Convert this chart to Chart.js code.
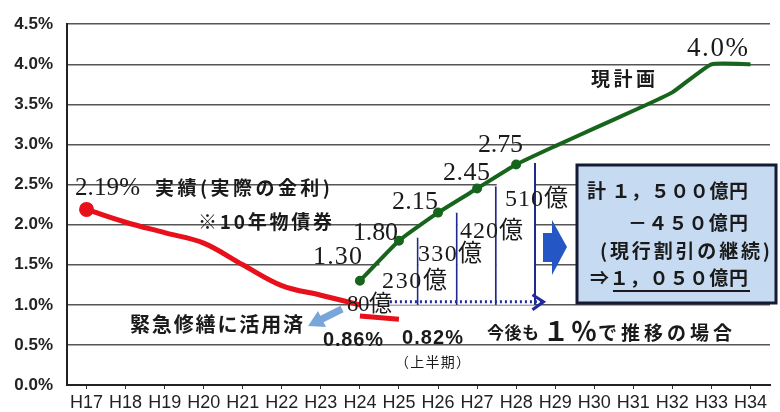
<!DOCTYPE html>
<html>
<head>
<meta charset="utf-8">
<style>
  body { margin: 0; background: #fff; }
  #myChart { display: block; }
</style>
</head>
<body>
<canvas id="myChart" width="780" height="412"></canvas>
<script src="https://cdn.jsdelivr.net/npm/chart.js@4.4.1/dist/chart.umd.min.js"></script>
<script>
// fiscal years
var years = ["H17", "H18", "H19", "H20", "H21", "H22", "H23", "H24", "H25",
             "H26", "H27", "H28", "H29", "H30", "H31", "H32", "H33", "H34"];
// actual rate (10-year bonds), %
var actualRate = [2.19, 2.03, 1.90, 1.77, 1.50, 1.24, 1.12, 1.00, null,
                  null, null, null, null, null, null, null, null, null];
var recentRate = [null, null, null, null, null, null, null, 0.86, 0.82,
                  null, null, null, null, null, null, null, null, null];
// current plan, %
var planRate = [null, null, null, null, null, null, null, 1.30, 1.80,
                2.15, 2.45, 2.75, 2.98, 3.20, 3.42, 3.65, 4.00, 4.00];
// saving blocks above the 1% line
var savingBase = 1.0;
var savingTop = [null, null, null, null, null, null, null, null, 1.84,
                 2.15, 2.48, 2.77, null, null, null, null, null, null];
var savingLabels = ["80億", "230億", "330億", "420億", "510億"];

var serif = "'Liberation Serif','Noto Sans CJK JP',serif";
var jp = "'Noto Sans CJK JP',sans-serif";

function put(ctx, str, x, y, font, width) {
  ctx.save();
  ctx.font = font;
  var w = ctx.measureText(str).width;
  if (width) {
    var n = Math.max(str.length - 1, 1);
    ctx.letterSpacing = ((width - w) / n).toFixed(2) + "px";
  }
  ctx.fillStyle = "#1a1a1a";
  ctx.textBaseline = "middle";
  ctx.textAlign = "left";
  ctx.fillText(str, x, y);
  ctx.restore();
}

var notes = {
  id: "notes",
  afterDatasetsDraw: function (chart) {
    var ctx = chart.ctx;
    var xs = chart.scales.x, ys = chart.scales.y;
    ctx.save();

    // dotted arrow along 1%
    var ay = ys.getPixelForValue(1.0) - 3;
    var ax0 = xs.getPixelForValue(7), ax1 = xs.getPixelForValue(11.7);
    ctx.strokeStyle = "#1f2a9c";
    ctx.lineWidth = 3;
    ctx.setLineDash([2, 3]);
    ctx.beginPath(); ctx.moveTo(ax0 + 30, ay); ctx.lineTo(ax1, ay); ctx.stroke();
    ctx.setLineDash([]);
    ctx.beginPath();
    ctx.moveTo(ax1 - 11, ay - 7); ctx.lineTo(ax1, ay); ctx.lineTo(ax1 - 11, ay + 8);
    ctx.stroke();

    // blue block arrow
    ctx.fillStyle = "#2457c5";
    ctx.fillRect(543, 233, 10, 29);
    ctx.beginPath();
    ctx.moveTo(552, 220); ctx.lineTo(567, 247); ctx.lineTo(552, 275); ctx.closePath();
    ctx.fill();

    // light blue arrow
    ctx.strokeStyle = "#78a6da";
    ctx.fillStyle = "#78a6da";
    ctx.lineWidth = 7;
    ctx.beginPath(); ctx.moveTo(342, 309); ctx.lineTo(320, 320); ctx.stroke();
    ctx.beginPath();
    ctx.moveTo(308, 326); ctx.lineTo(318, 311); ctx.lineTo(326, 327); ctx.closePath();
    ctx.fill();

    // summary box
    ctx.fillStyle = "#c6daf1";
    ctx.fillRect(577, 165, 199, 138);
    ctx.strokeStyle = "#151a33";
    ctx.lineWidth = 3;
    ctx.strokeRect(577, 165, 199, 138);
    ctx.restore();

    put(ctx, "2.19%", 75, 188, "25px " + serif, 65);
    put(ctx, "実績(実際の金利)", 155, 188, "bold 19px " + jp, 175);
    put(ctx, "※10年物債券", 198, 222, "bold 19px " + jp, 134);
    put(ctx, "現計画", 591, 79, "bold 19px " + jp, 64);
    put(ctx, "4.0%", 687, 49, "27px " + serif, 61);
    put(ctx, "1.30", 313, 257, "26px " + serif, 49);
    put(ctx, "1.80", 353, 233, "26px " + serif, 45);
    put(ctx, "2.15", 392, 202, "26px " + serif, 46);
    put(ctx, "2.45", 443, 173, "26px " + serif, 47);
    put(ctx, "2.75", 478, 145, "26px " + serif, 45);
    put(ctx, savingLabels[0], 347, 305, "23px " + serif, 45);
    put(ctx, savingLabels[1], 382, 282, "24px " + serif, 65);
    put(ctx, savingLabels[2], 418, 255, "24px " + serif, 64);
    put(ctx, savingLabels[3], 460, 232, "24px " + serif, 63);
    put(ctx, savingLabels[4], 505, 200, "24px " + serif, 63);
    put(ctx, "緊急修繕に活用済", 130, 324, "bold 20px " + jp, 173);
    put(ctx, "0.86%", 323, 340, "bold 20px 'Liberation Sans'", 60);
    put(ctx, "0.82%", 402, 338, "bold 20px 'Liberation Sans'", 61);
    put(ctx, "（上半期）", 395, 362, "14px " + jp, 75);
    put(ctx, "今後も", 487, 333, "bold 17px " + jp, 52);
    put(ctx, "１％", 543, 331, "bold 26px " + jp, 54);
    put(ctx, "で推移の場合", 598, 333, "bold 19px " + jp, 134);
    put(ctx, "計 １，５００億円", 587, 191, "bold 19px " + jp, 161);
    put(ctx, "－４５０億円", 628, 223, "bold 19px " + jp, 120);
    put(ctx, "(現行割引の継続)", 600, 251, "bold 19px " + jp, 170);
    put(ctx, "⇒１，０５０億円", 590, 278, "bold 19px " + jp, 158);
    ctx.save();
    ctx.strokeStyle = "#1a1a1a";
    ctx.lineWidth = 2;
    ctx.beginPath(); ctx.moveTo(613, 291); ctx.lineTo(750, 291); ctx.stroke();
    ctx.restore();
  }
};

var ctx = document.getElementById("myChart").getContext("2d");
var myChart = new Chart(ctx, {
  data: {
    labels: years,
    datasets: [
      {
        type: "line",
        label: "現計画",
        data: planRate,
        borderColor: "#17651c",
        backgroundColor: "#17651c",
        borderWidth: 4,
        tension: 0.15,
        pointRadius: planRate.map(function (v, i) { return i >= 7 && i <= 11 ? 3 : 0; }),
        order: 0
      },
      {
        type: "line",
        label: "実績",
        data: actualRate,
        borderColor: "#e8101a",
        backgroundColor: "#e8101a",
        borderWidth: 5,
        tension: 0.35,
        pointRadius: actualRate.map(function (v, i) { return i === 0 ? 5 : 0; }),
        order: 1
      },
      {
        type: "line",
        label: "実績2",
        data: recentRate,
        borderColor: "#e8101a",
        borderWidth: 5,
        pointRadius: 0,
        order: 1
      },
      {
        type: "bar",
        label: "削減",
        data: savingTop.map(function (v) { return v == null ? null : [savingBase, v]; }),
        backgroundColor: "#ffffff",
        borderColor: "#1f2a8c",
        borderWidth: { left: 0, right: 2, top: 0, bottom: 0 },
        borderSkipped: false,
        categoryPercentage: 1,
        barPercentage: 1,
        order: 5
      }
    ]
  },
  options: {
    responsive: false,
    animation: false,
    layout: { padding: { top: 23, right: 8, left: 0, bottom: 0 } },
    plugins: { legend: { display: false }, tooltip: { enabled: false } },
    scales: {
      x: {
        offset: true,
        grid: { drawOnChartArea: false, offset: false, tickLength: 4, color: "#333" },
        border: { color: "#222", width: 2 },
        ticks: { font: { family: "'Liberation Sans'", size: 18 }, color: "#222", padding: 3,
                 maxRotation: 0, autoSkip: false },
        afterFit: function (s) { s.height = 27; }
      },
      y: {
        min: 0,
        max: 4.5,
        grid: { color: "#555", lineWidth: 1.5, drawTicks: false },
        border: { color: "#222", width: 2 },
        ticks: {
          stepSize: 0.5,
          padding: 14,
          color: "#222",
          font: { family: "'Liberation Sans'", size: 17, weight: "bold" },
          callback: function (v) { return v.toFixed(1) + "%"; }
        },
        afterFit: function (s) { s.width = 67; }
      }
    }
  },
  plugins: [notes]
});
</script>
</body>
</html>
